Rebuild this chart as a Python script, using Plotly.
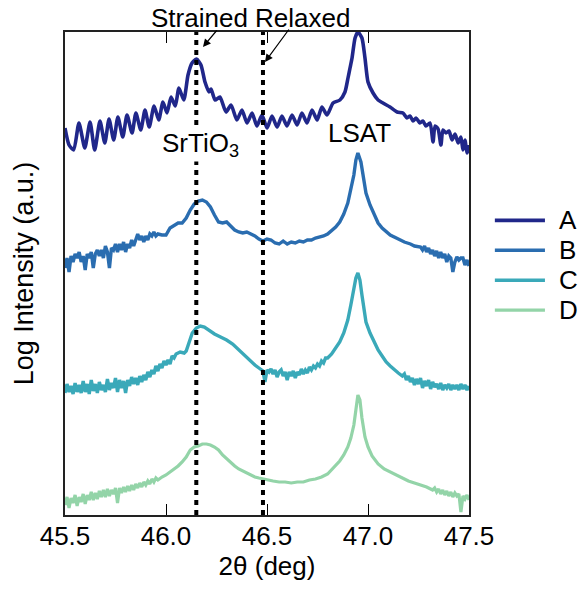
import plotly.graph_objects as go

# ---------------- data (2theta in deg, log intensity in offset arbitrary units) -------------
names = ["A", "B", "C", "D"]
colors = ["#20278a", "#2a6db0", "#3aa9b9", "#93d4a8"]

A_tth = [45.500, 45.520, 45.543, 45.569, 45.598, 45.624, 45.647, 45.673, 45.697, 45.718,
         45.741, 45.762, 45.786, 45.807, 45.832, 45.851, 45.875, 45.896, 45.917, 45.941,
         45.964, 45.985, 46.005, 46.025, 46.046, 46.064, 46.088, 46.109, 46.129, 46.151,
         46.173, 46.193, 46.213, 46.223, 46.243, 46.267, 46.297, 46.322, 46.351, 46.376,
         46.401, 46.426, 46.450, 46.475, 46.500, 46.525, 46.550, 46.574, 46.599, 46.624,
         46.649, 46.673, 46.698, 46.723, 46.748, 46.772, 46.797, 46.827, 46.861, 46.886,
         46.901, 46.911, 46.921, 46.936, 46.950, 46.970, 46.985, 47.000, 47.025, 47.050,
         47.074, 47.109, 47.144, 47.173, 47.193, 47.208, 47.223, 47.238, 47.257, 47.272,
         47.287, 47.307, 47.322, 47.332, 47.347, 47.361, 47.371, 47.386, 47.401, 47.416,
         47.431, 47.446, 47.460, 47.470, 47.480, 47.490, 47.500]
A_int = [387, 370, 365, 392, 367, 393, 365, 394, 372, 396,
         375, 398, 378, 400, 382, 402, 385, 405, 388, 409,
         395, 413, 402, 418, 409, 427, 415, 440, 452, 456,
         450, 433, 423, 426, 415, 418, 403, 410, 395, 405,
         392, 402, 389, 400, 387, 399, 388, 399, 389, 400,
         390, 402, 392, 405, 395, 408, 400, 412, 415, 423,
         437, 447, 457, 477, 483, 477, 457, 433, 422, 415,
         412, 408, 403, 402, 397, 399, 394, 397, 392, 394,
         389, 392, 373, 389, 386, 370, 385, 382, 384, 375,
         381, 372, 378, 365, 375, 362, 370]

B_tth = [45.50, 45.51, 45.52, 45.53, 45.54, 45.55, 45.56, 45.57, 45.58, 45.59,
         45.60, 45.61, 45.62, 45.63, 45.64, 45.65, 45.66, 45.67, 45.68, 45.69,
         45.70, 45.71, 45.72, 45.73, 45.74, 45.75, 45.76, 45.77, 45.78, 45.79,
         45.80, 45.81, 45.82, 45.83, 45.84, 45.85, 45.86, 45.87, 45.88, 45.89,
         45.90, 45.91, 45.92, 45.93, 45.94, 45.95, 45.96, 45.98, 46.00, 46.02,
         46.04, 46.06, 46.08, 46.10, 46.12, 46.14, 46.16, 46.18, 46.20, 46.22,
         46.24, 46.26, 46.28, 46.30, 46.32, 46.34, 46.36, 46.38, 46.40, 46.42,
         46.44, 46.46, 46.48, 46.50, 46.52, 46.54, 46.56, 46.58, 46.60, 46.62,
         46.64, 46.66, 46.68, 46.70, 46.72, 46.74, 46.76, 46.78, 46.80, 46.82,
         46.84, 46.86, 46.88, 46.90, 46.915, 46.93, 46.94, 46.95, 46.965, 46.98,
         46.99, 47.01, 47.03, 47.05, 47.07, 47.09, 47.11, 47.14, 47.16, 47.18,
         47.21, 47.23, 47.26, 47.27, 47.28, 47.29, 47.30, 47.31, 47.32, 47.33,
         47.34, 47.35, 47.36, 47.37, 47.38, 47.39, 47.40, 47.41, 47.42, 47.43,
         47.44, 47.45, 47.46, 47.47, 47.48, 47.49, 47.50]
B_int = [247, 257, 243, 259, 253, 261, 257, 263, 253, 259,
         245, 261, 257, 263, 247, 261, 265, 259, 265, 257,
         269, 263, 247, 267, 265, 271, 263, 271, 265, 273,
         263, 271, 267, 275, 269, 275, 281, 275, 279, 273,
         279, 275, 281, 279, 283, 279, 281, 280, 280, 287,
         290, 292, 292, 297, 305, 311, 314, 315, 313, 308,
         300, 293, 292, 293, 289, 285, 283, 282, 283, 281,
         279, 276, 274, 276, 275, 272, 271, 274, 271, 273,
         272, 274, 273, 275, 275, 277, 278, 279, 281, 284,
         288, 293, 301, 312, 325, 340, 355, 362, 353, 337,
         322, 310, 300, 292, 287, 283, 280, 277, 275, 273,
         271, 269, 268, 265, 269, 263, 267, 261, 265, 259,
         264, 257, 263, 257, 261, 253, 259, 257, 243, 253,
         258, 255, 257, 257, 250, 255, 249]

C_tth = [45.50, 45.51, 45.52, 45.53, 45.54, 45.55, 45.56, 45.57, 45.58, 45.59,
         45.60, 45.61, 45.62, 45.63, 45.64, 45.65, 45.66, 45.67, 45.68, 45.69,
         45.70, 45.71, 45.72, 45.73, 45.74, 45.75, 45.76, 45.77, 45.78, 45.79,
         45.80, 45.81, 45.82, 45.83, 45.84, 45.85, 45.86, 45.87, 45.88, 45.89,
         45.90, 45.91, 45.92, 45.93, 45.94, 45.95, 45.96, 45.97, 45.98, 45.99,
         46.00, 46.01, 46.02, 46.03, 46.04, 46.05, 46.07, 46.09, 46.10, 46.12,
         46.13, 46.15, 46.17, 46.19, 46.21, 46.24, 46.27, 46.30, 46.33, 46.36,
         46.38, 46.40, 46.42, 46.44, 46.46, 46.48, 46.49, 46.50, 46.51, 46.52,
         46.53, 46.54, 46.55, 46.56, 46.57, 46.58, 46.59, 46.60, 46.61, 46.62,
         46.63, 46.64, 46.65, 46.66, 46.67, 46.68, 46.69, 46.70, 46.71, 46.72,
         46.73, 46.74, 46.75, 46.76, 46.77, 46.78, 46.79, 46.80, 46.82, 46.84,
         46.86, 46.88, 46.90, 46.915, 46.93, 46.94, 46.95, 46.96, 46.97, 46.98,
         46.99, 47.01, 47.03, 47.05, 47.07, 47.09, 47.11, 47.13, 47.15, 47.17,
         47.18, 47.19, 47.20, 47.21, 47.22, 47.23, 47.24, 47.25, 47.26, 47.27,
         47.28, 47.29, 47.30, 47.31, 47.32, 47.33, 47.34, 47.35, 47.36, 47.37,
         47.38, 47.39, 47.40, 47.41, 47.42, 47.43, 47.44, 47.45, 47.46, 47.47,
         47.48, 47.49, 47.50]
C_int = [122, 131, 123, 129, 121, 132, 123, 130, 122, 134,
         123, 131, 121, 135, 124, 131, 122, 133, 125, 130,
         123, 136, 125, 132, 127, 137, 123, 135, 127, 134,
         122, 135, 129, 138, 131, 137, 130, 139, 133, 140,
         135, 143, 138, 145, 141, 149, 144, 151, 147, 154,
         150, 155, 151, 159, 157, 161, 163, 162, 164, 175,
         182, 187, 189, 188, 185, 181, 178, 175, 171, 165,
         162, 158, 154, 150, 147, 144, 133, 145, 143, 146,
         141, 145, 138, 143, 145, 139, 143, 135, 143, 139,
         144, 137, 143, 140, 146, 141, 145, 142, 148, 145,
         149, 147, 151, 149, 154, 152, 157, 157, 161, 167,
         173, 182, 195, 210, 225, 237, 242, 235, 220, 205,
         193, 182, 173, 165, 159, 153, 149, 145, 142, 139,
         141, 135, 139, 133, 137, 130, 136, 131, 137, 127,
         134, 129, 135, 126, 133, 128, 131, 126, 132, 125,
         130, 127, 131, 125, 130, 126, 130, 125, 131, 126,
         130, 125, 129]

D_tth = [45.50, 45.51, 45.52, 45.53, 45.54, 45.55, 45.56, 45.57, 45.58, 45.59,
         45.60, 45.61, 45.62, 45.63, 45.64, 45.65, 45.66, 45.67, 45.68, 45.69,
         45.70, 45.71, 45.72, 45.73, 45.74, 45.75, 45.76, 45.77, 45.78, 45.79,
         45.80, 45.81, 45.82, 45.83, 45.84, 45.85, 45.86, 45.87, 45.88, 45.89,
         45.90, 45.91, 45.92, 45.93, 45.94, 45.95, 45.96, 45.98, 46.00, 46.02,
         46.04, 46.06, 46.08, 46.10, 46.12, 46.14, 46.16, 46.18, 46.20, 46.22,
         46.24, 46.26, 46.28, 46.30, 46.32, 46.34, 46.36, 46.38, 46.40, 46.42,
         46.44, 46.46, 46.48, 46.50, 46.53, 46.56, 46.59, 46.62, 46.65, 46.68,
         46.71, 46.74, 46.77, 46.80, 46.82, 46.84, 46.86, 46.88, 46.90, 46.915,
         46.93, 46.94, 46.95, 46.96, 46.97, 46.985, 47.00, 47.02, 47.05, 47.08,
         47.11, 47.14, 47.17, 47.20, 47.23, 47.26, 47.29, 47.32, 47.33, 47.34,
         47.35, 47.36, 47.37, 47.38, 47.39, 47.40, 47.41, 47.42, 47.43, 47.44,
         47.45, 47.46, 47.47, 47.48, 47.49, 47.50]
D_int = [10, 18, 7, 17, 12, 20, 9, 18, 13, 21,
         11, 20, 15, 23, 15, 22, 16, 24, 18, 25,
         18, 26, 19, 25, 21, 27, 12, 27, 22, 28,
         23, 29, 24, 30, 25, 31, 27, 32, 28, 33,
         30, 34, 31, 36, 33, 37, 35, 38, 40, 43,
         46, 49, 53, 58, 65, 68, 69, 71, 71, 70,
         68, 65, 60, 56, 53, 49, 46, 44, 42, 40,
         38, 37, 36, 35, 34, 33, 33, 32, 33, 33,
         35, 36, 38, 41, 45, 49, 54, 60, 68, 77,
         90, 105, 120, 115, 97, 78, 68, 59, 51, 46,
         43, 40, 37, 34, 32, 30, 28, 25, 27, 23,
         26, 21, 25, 20, 24, 19, 23, 18, 22, 19,
         21, 3, 19, 16, 20, 15]

x_ticks = [45.5, 46.0, 46.5, 47.0, 47.5]
x_ticklabels = ["45.5", "46.0", "46.5", "47.0", "47.5"]
strained_pos = 46.15
relaxed_pos = 46.48

series = [(A_tth, A_int), (B_tth, B_int), (C_tth, C_int), (D_tth, D_int)]
widths = [3.6, 3.4, 3.4, 3.2]

FONT = "Arial, Liberation Sans, Helvetica, sans-serif"

fig = go.Figure()
for (tth, inten), name, col, w in zip(series, names, colors, widths):
    fig.add_trace(go.Scatter(
        x=tth, y=inten, mode="lines", name=name, showlegend=False,
        line=dict(color=col, width=w, shape="spline" if name == "A" else "linear",
                  smoothing=0.6 if name == "A" else None),
    ))

# legend (drawn beside the plot area: a short line sample and the series name)
leg_top = 0.61      # paper y of first entry
leg_step = 0.062    # paper distance between entries
for i, (name, col, w) in enumerate(zip(names, colors, widths)):
    yy = leg_top - i * leg_step
    fig.add_shape(type="line", xref="paper", yref="paper", x0=1.064, x1=1.188,
                  y0=yy, y1=yy, line=dict(color=col, width=w))
    fig.add_annotation(xref="paper", yref="paper", x=1.218, y=yy, text=name,
                       showarrow=False, xanchor="left", yanchor="middle",
                       font=dict(family=FONT, size=26, color="black"))

# dotted reference lines
for xv in (strained_pos, relaxed_pos):
    fig.add_shape(type="line", xref="x", yref="paper", x0=xv, x1=xv, y0=0, y1=1,
                  line=dict(color="black", width=4, dash="5px,5px"), layer="above")

# labels
fig.add_annotation(x=46.17, y=371, xref="x", yref="y", text="SrTiO<sub>3</sub>",
                   showarrow=False, bgcolor="white", borderpad=0,
                   font=dict(family=FONT, size=26, color="black"))
fig.add_annotation(x=46.96, y=382, xref="x", yref="y", text="LSAT",
                   showarrow=False, font=dict(family=FONT, size=26, color="black"))
fig.add_annotation(x=46.416, y=1.03, xref="x", yref="paper", text="Strained Relaxed",
                   showarrow=False, yanchor="middle",
                   font=dict(family=FONT, size=26, color="black"))
# arrows
fig.add_annotation(x=46.183, y=468, xref="x", yref="y", ax=15, ay=-18, text="",
                   showarrow=True, arrowhead=2, arrowsize=1.3, arrowwidth=1.2,
                   arrowcolor="black")
fig.add_annotation(x=46.490, y=453, xref="x", yref="y", ax=25, ay=-34, text="",
                   showarrow=True, arrowhead=2, arrowsize=1.3, arrowwidth=1.2,
                   arrowcolor="black")

fig.update_layout(
    width=579, height=592,
    margin=dict(l=65, r=110, t=32, b=77, autoexpand=False),
    paper_bgcolor="white", plot_bgcolor="white",
    font=dict(family=FONT, size=26, color="black"),
    showlegend=False,
    xaxis=dict(range=[45.5, 47.5], tickvals=x_ticks, ticktext=x_ticklabels,
               ticks="inside", ticklen=11, tickwidth=1.2, tickcolor="black",
               showline=True, linecolor="#222222", linewidth=1.5, mirror="allticks",
               showgrid=False, zeroline=False, ticklabelstandoff=-3,
               tickfont=dict(family=FONT, size=26, color="black"),
               title=dict(text="2θ (deg)", font=dict(family=FONT, size=26, color="black"),
                          standoff=4)),
    yaxis=dict(range=[0, 483], showticklabels=False, ticks="",
               showline=True, linecolor="#222222", linewidth=1.5, mirror=True,
               showgrid=False, zeroline=False,
               title=dict(text="Log Intensity (a.u.)",
                          font=dict(family=FONT, size=27, color="black"), standoff=22)),
)

fig.write_html("out.html")
